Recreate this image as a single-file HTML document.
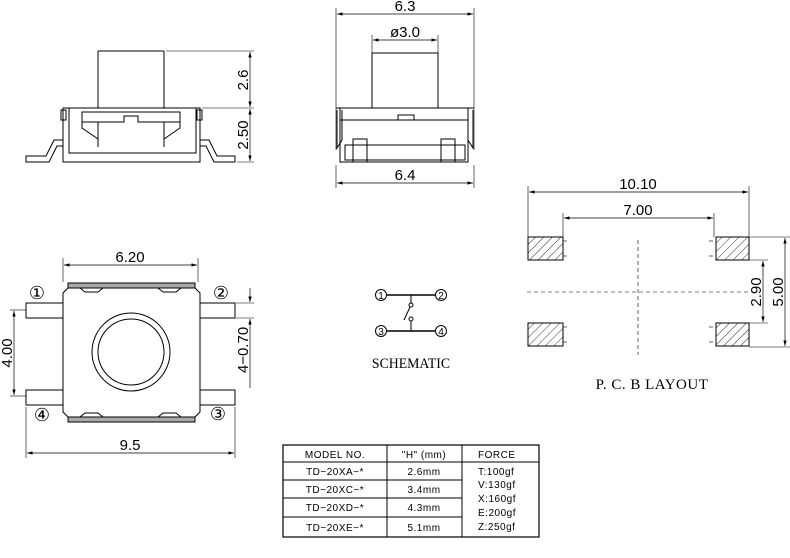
<!DOCTYPE html>
<html><head><meta charset="utf-8"><style>
html,body{margin:0;padding:0;background:#fff;}
svg{display:block;}
text{font-family:"Liberation Sans",sans-serif;fill:#000;}
.s{font-family:"Liberation Serif",serif;}
</style></head><body>
<svg width="790" height="558" viewBox="0 0 790 558" xmlns="http://www.w3.org/2000/svg" stroke="#000" stroke-width="1" fill="none">
<defs>
<marker id="a" viewBox="0 0 10 6" refX="10" refY="3" markerWidth="8" markerHeight="5" orient="auto-start-reverse"><path d="M0,0 L10,3 L0,6" fill="#000" stroke="none"/></marker>
<pattern id="h" width="6" height="6" patternUnits="userSpaceOnUse" patternTransform="rotate(45)"><line x1="0" y1="0" x2="0" y2="6" stroke="#000" stroke-width="0.8"/></pattern>
</defs>

<!-- ===== Left side view ===== -->
<rect x="98" y="51" width="66" height="57" rx="1"/>
<line x1="63" y1="108" x2="200" y2="108"/>
<rect x="63" y="108" width="137" height="54"/>
<rect x="69" y="108" width="127" height="45"/>
<rect x="61" y="110" width="5" height="10"/><rect x="197" y="110" width="5" height="10"/>
<path d="M82,112 H180 V122 H138 V116 H124 V122 H82 Z"/>
<path d="M82,122 V128 L98,139 V147 M180,122 V128 L164,139 V147 M98,122 V139 M164,122 V139"/>
<path d="M63,140 H54 L46,156 H26 V162 H49 L57,146 H63"/>
<path d="M200,140 H209 L217,156 H235 V162 H214 L206,146 H200"/>
<line x1="166" y1="51" x2="254" y2="51" stroke-width="0.6"/>
<line x1="202" y1="108" x2="254" y2="108" stroke-width="0.6"/>
<line x1="237" y1="162" x2="254" y2="162" stroke-width="0.6"/>
<line x1="250" y1="52" x2="250" y2="107" marker-start="url(#a)" marker-end="url(#a)" stroke-width="0.7"/>
<line x1="250" y1="109" x2="250" y2="161" marker-start="url(#a)" marker-end="url(#a)" stroke-width="0.7"/>
<text x="0" y="0" font-size="15" stroke="none" transform="translate(248,80) rotate(-90)" text-anchor="middle">2.6</text>
<text x="0" y="0" font-size="15" stroke="none" transform="translate(248,135) rotate(-90)" text-anchor="middle">2.50</text>

<!-- ===== Middle side view ===== -->
<line x1="336" y1="8" x2="336" y2="150" stroke-width="0.6"/>
<line x1="474" y1="8" x2="474" y2="150" stroke-width="0.6"/>
<line x1="337" y1="14" x2="473" y2="14" marker-start="url(#a)" marker-end="url(#a)" stroke-width="0.7"/>
<text x="405" y="11" font-size="15" stroke="none" text-anchor="middle">6.3</text>
<line x1="372" y1="35" x2="372" y2="53" stroke-width="0.6"/>
<line x1="438" y1="35" x2="438" y2="53" stroke-width="0.6"/>
<line x1="373" y1="40" x2="437" y2="40" marker-start="url(#a)" marker-end="url(#a)" stroke-width="0.7"/>
<text x="405" y="37" font-size="15" stroke="none" text-anchor="middle">ø3.0</text>
<rect x="372" y="53" width="66" height="55"/>
<line x1="336" y1="108" x2="474" y2="108"/>
<rect x="340" y="108" width="128" height="54"/>
<line x1="340" y1="120" x2="468" y2="120"/>
<rect x="398" y="115" width="16" height="5"/>
<path d="M337,110 V148 L342,140 V110 M473,110 V148 L468,140 V110"/>
<rect x="345" y="145" width="120" height="15"/>
<rect x="353" y="139" width="14" height="23"/><rect x="441" y="139" width="14" height="23"/>
<line x1="336" y1="165" x2="336" y2="188" stroke-width="0.6"/>
<line x1="474" y1="165" x2="474" y2="188" stroke-width="0.6"/>
<line x1="337" y1="183" x2="473" y2="183" marker-start="url(#a)" marker-end="url(#a)" stroke-width="0.7"/>
<text x="405" y="180" font-size="15" stroke="none" text-anchor="middle">6.4</text>

<!-- ===== Top view ===== -->
<line x1="63" y1="258" x2="63" y2="282" stroke-width="0.6"/>
<line x1="198" y1="258" x2="198" y2="282" stroke-width="0.6"/>
<line x1="64" y1="265" x2="197" y2="265" marker-start="url(#a)" marker-end="url(#a)" stroke-width="0.7"/>
<text x="130" y="262" font-size="15" stroke="none" text-anchor="middle">6.20</text>
<rect x="68" y="283" width="127" height="5" fill="#aaa"/>
<rect x="68" y="417" width="127" height="5" fill="#aaa"/>
<path d="M68,288 L63,293 V412 L68,417 H80 L85,413 H98 L103,417 H158 L163,413 H176 L181,417 H195 L200,412 V293 L195,288 H181 L176,292 H163 L158,288 H103 L98,292 H85 L80,288 Z"/>
<circle cx="131" cy="352" r="39"/>
<circle cx="131" cy="352" r="33"/>
<rect x="26" y="303" width="37" height="15"/><rect x="26" y="390" width="37" height="15"/>
<rect x="200" y="303" width="35" height="15"/><rect x="200" y="390" width="35" height="15"/>
<text x="37" y="299" font-size="18" stroke="none" text-anchor="middle" class="s">①</text>
<text x="221" y="299" font-size="18" stroke="none" text-anchor="middle" class="s">②</text>
<text x="42" y="421" font-size="18" stroke="none" text-anchor="middle" class="s">④</text>
<text x="218" y="420" font-size="18" stroke="none" text-anchor="middle" class="s">③</text>
<line x1="10" y1="310" x2="26" y2="310" stroke-width="0.6"/>
<line x1="10" y1="396" x2="26" y2="396" stroke-width="0.6"/>
<line x1="14" y1="311" x2="14" y2="395" marker-start="url(#a)" marker-end="url(#a)" stroke-width="0.7"/>
<text x="0" y="0" font-size="15" stroke="none" transform="translate(12,353) rotate(-90)" text-anchor="middle">4.00</text>
<line x1="236" y1="303" x2="254" y2="303" stroke-width="0.6"/>
<line x1="236" y1="318" x2="254" y2="318" stroke-width="0.6"/>
<line x1="250" y1="288" x2="250" y2="302" marker-end="url(#a)" stroke-width="0.7"/>
<line x1="250" y1="319" x2="250" y2="388" marker-start="url(#a)" stroke-width="0.7"/>
<text x="0" y="0" font-size="15" stroke="none" transform="translate(248,350) rotate(-90)" text-anchor="middle">4−0.70</text>
<line x1="26" y1="407" x2="26" y2="458" stroke-width="0.6"/>
<line x1="235" y1="407" x2="235" y2="458" stroke-width="0.6"/>
<line x1="27" y1="453" x2="234" y2="453" marker-start="url(#a)" marker-end="url(#a)" stroke-width="0.7"/>
<text x="130" y="450" font-size="15" stroke="none" text-anchor="middle">9.5</text>

<!-- ===== Schematic ===== -->
<circle cx="381" cy="295" r="5.5"/><circle cx="441" cy="295" r="5.5"/>
<circle cx="381" cy="331" r="5.5"/><circle cx="441" cy="331" r="5.5"/>
<g stroke="none" font-size="10" text-anchor="middle"><text x="381" y="299">1</text><text x="441" y="299">2</text><text x="381" y="335">3</text><text x="441" y="335">4</text></g>
<line x1="386" y1="295" x2="436" y2="295" stroke-width="1.5"/>
<line x1="386" y1="331" x2="436" y2="331" stroke-width="1.5"/>
<line x1="411" y1="295" x2="411" y2="303"/>
<circle cx="411" cy="305" r="2"/>
<line x1="410" y1="307" x2="404" y2="320"/>
<circle cx="411" cy="319" r="2"/>
<line x1="411" y1="321" x2="411" y2="331"/>
<text x="411" y="368" font-size="15" stroke="none" text-anchor="middle" class="s" transform="translate(411,0) scale(0.92,1) translate(-411,0)">SCHEMATIC</text>

<!-- ===== PCB layout ===== -->
<line x1="528" y1="186" x2="528" y2="237" stroke-width="0.6"/>
<line x1="749" y1="186" x2="749" y2="237" stroke-width="0.6"/>
<line x1="529" y1="192" x2="748" y2="192" marker-start="url(#a)" marker-end="url(#a)" stroke-width="0.7"/>
<text x="638" y="189" font-size="15" stroke="none" text-anchor="middle">10.10</text>
<line x1="563" y1="213" x2="563" y2="237" stroke-width="0.6"/>
<line x1="714" y1="213" x2="714" y2="237" stroke-width="0.6"/>
<line x1="564" y1="218" x2="713" y2="218" marker-start="url(#a)" marker-end="url(#a)" stroke-width="0.7"/>
<text x="638" y="215" font-size="15" stroke="none" text-anchor="middle">7.00</text>
<g fill="url(#h)">
<rect x="528" y="237" width="35" height="23"/><rect x="716" y="237" width="33" height="23"/>
<rect x="528" y="323" width="35" height="23"/><rect x="716" y="323" width="33" height="23"/>
</g>
<g stroke-dasharray="4,3" stroke-width="0.6">
<line x1="563" y1="241" x2="570" y2="241"/><line x1="563" y1="256" x2="570" y2="256"/>
<line x1="709" y1="241" x2="716" y2="241"/><line x1="709" y1="256" x2="716" y2="256"/>
<line x1="563" y1="327" x2="570" y2="327"/><line x1="563" y1="342" x2="570" y2="342"/>
<line x1="709" y1="327" x2="716" y2="327"/><line x1="709" y1="342" x2="716" y2="342"/>
<line x1="638" y1="240" x2="638" y2="355"/>
<line x1="527" y1="292" x2="748" y2="292"/>
</g>
<line x1="749" y1="237" x2="790" y2="237" stroke-width="0.6"/>
<line x1="749" y1="260" x2="768" y2="260" stroke-width="0.6"/>
<line x1="749" y1="323" x2="768" y2="323" stroke-width="0.6"/>
<line x1="749" y1="347" x2="790" y2="347" stroke-width="0.6"/>
<line x1="763" y1="261" x2="763" y2="322" marker-start="url(#a)" marker-end="url(#a)" stroke-width="0.7"/>
<line x1="785" y1="238" x2="785" y2="346" marker-start="url(#a)" marker-end="url(#a)" stroke-width="0.7"/>
<text x="0" y="0" font-size="15" stroke="none" transform="translate(761,292) rotate(-90)" text-anchor="middle">2.90</text>
<text x="0" y="0" font-size="15" stroke="none" transform="translate(783,292) rotate(-90)" text-anchor="middle">5.00</text>
<text x="652" y="389" font-size="15" stroke="none" text-anchor="middle" class="s" letter-spacing="0.5">P. C. B LAYOUT</text>

<!-- ===== Table ===== -->
<rect x="283" y="445" width="256" height="92" stroke-width="1.2"/>
<line x1="387" y1="445" x2="387" y2="537"/>
<line x1="462" y1="445" x2="462" y2="537"/>
<line x1="283" y1="462" x2="539" y2="462"/>
<line x1="283" y1="480" x2="462" y2="480"/>
<line x1="283" y1="498" x2="462" y2="498"/>
<line x1="283" y1="517" x2="462" y2="517"/>
<g stroke="none" font-size="10" letter-spacing="0.5">
<text x="335" y="458" text-anchor="middle">MODEL NO.</text>
<text x="424" y="458" text-anchor="middle">"H" (mm)</text>
<text x="478" y="458">FORCE</text>
<text x="335" y="475" text-anchor="middle">TD−20XA−*</text>
<text x="335" y="493" text-anchor="middle">TD−20XC−*</text>
<text x="335" y="511" text-anchor="middle">TD−20XD−*</text>
<text x="335" y="531" text-anchor="middle">TD−20XE−*</text>
<text x="424" y="475" text-anchor="middle">2.6mm</text>
<text x="424" y="493" text-anchor="middle">3.4mm</text>
<text x="424" y="511" text-anchor="middle">4.3mm</text>
<text x="424" y="531" text-anchor="middle">5.1mm</text>
<text x="478" y="475">T:100gf</text>
<text x="478" y="488">V:130gf</text>
<text x="478" y="502">X:160gf</text>
<text x="478" y="516">E:200gf</text>
<text x="478" y="530">Z:250gf</text>
</g>
</svg>
</body></html>
